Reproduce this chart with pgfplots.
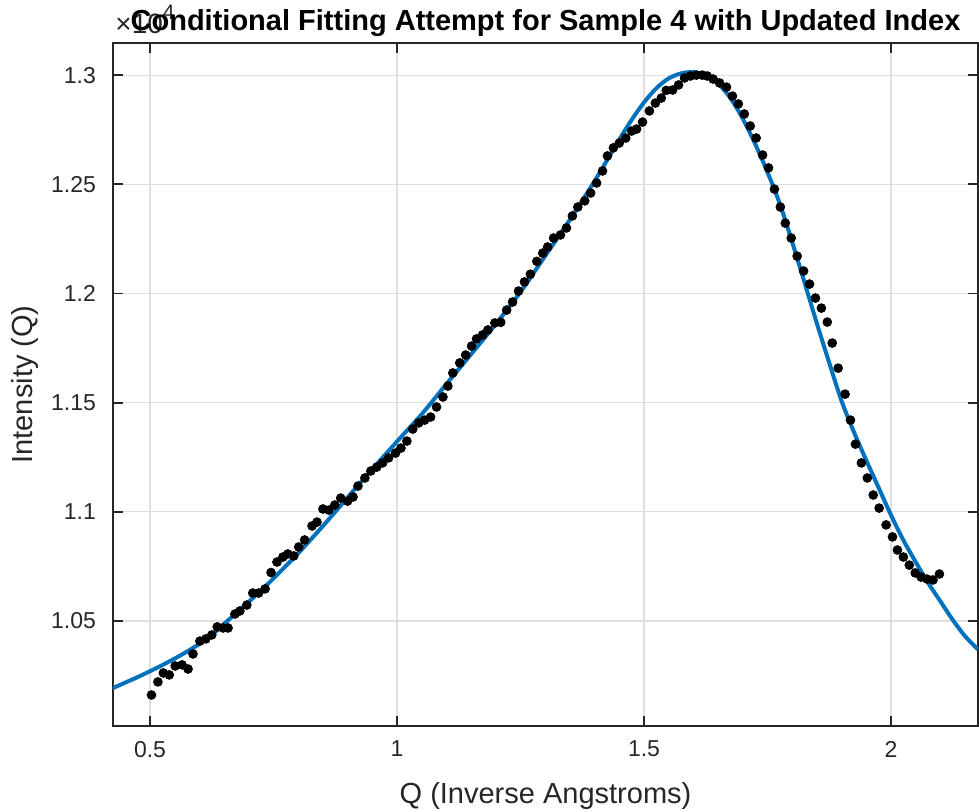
\documentclass[border=0pt]{standalone}
\usepackage{pgfplots}
\pgfplotsset{compat=1.18}
\usepackage{fontspec}
\setmainfont{Liberation Sans}
\definecolor{mlblue}{RGB}{0,114,189}
\definecolor{axgray}{RGB}{38,38,38}
\definecolor{gridgray}{RGB}{223,223,223}
\begin{document}
\begin{tikzpicture}
\useasboundingbox (-56.5pt,-42.5pt) rectangle (433pt,363pt);
\node[anchor=base west, inner sep=0pt, font=\fontsize{14}{16}\selectfont, text=axgray] at (1pt,346.5pt) {×10\raisebox{0.5em}{\fontsize{10.5}{12}\selectfont 4}};
\begin{axis}[
 at={(0,0)}, anchor=south west,
 scale only axis, width=432.5pt, height=341.6pt,
 xmin=0.4251, xmax=2.1761, ymin=1.0019, ymax=1.3148,
 xtick={0.5,1,1.5,2}, xticklabels={0.5,1,1.5,2},
 ytick={1.05,1.1,1.15,1.2,1.25,1.3}, yticklabels={1.05,1.1,1.15,1.2,1.25,1.3},
 tick align=inside, tick pos=both, major tick length=5pt,
 axis line style={axgray, line width=0.9pt},
 tick style={axgray, line width=0.9pt},
 grid=major, major grid style={gridgray, line width=0.6pt},
 ticklabel style={font=\fontsize{11.5}{13}\selectfont, text=axgray},
 xticklabel style={yshift=-4pt},
 yticklabel style={xshift=-5pt},
 every axis title shift=0pt,
 title={Conditional Fitting Attempt for Sample 4 with Updated Index},
 title style={font=\bfseries\fontsize{14.5}{17}\selectfont, at={(axis description cs:0.5,1.0186)}, anchor=base},
 xlabel={Q (Inverse Angstroms)}, ylabel={Intensity (Q)},
 label style={font=\fontsize{14.5}{17}\selectfont, text=axgray},
 xlabel style={at={(axis description cs:0.5,-0.1127)}, anchor=base},
 ylabel style={at={(axis description cs:-0.0925,0.5)}, anchor=base},
 clip=true,
]
\addplot[only marks, mark=*, mark size=2.2pt, black] table {
x y
0.503 1.0161
0.516 1.0221
0.527 1.0262
0.539 1.0253
0.551 1.0294
0.565 1.0299
0.577 1.0280
0.587 1.0349
0.601 1.0408
0.613 1.0418
0.625 1.0436
0.636 1.0473
0.648 1.0468
0.658 1.0468
0.672 1.0532
0.682 1.0546
0.696 1.0573
0.708 1.0628
0.720 1.0628
0.733 1.0647
0.745 1.0722
0.757 1.0770
0.769 1.0793
0.779 1.0807
0.791 1.0798
0.801 1.0839
0.813 1.0871
0.828 1.0935
0.838 1.0953
0.850 1.1013
0.862 1.1008
0.874 1.1031
0.886 1.1063
0.900 1.1049
0.911 1.1068
0.921 1.1118
0.935 1.1155
0.947 1.1187
0.959 1.1205
0.971 1.1224
0.983 1.1247
0.997 1.1269
1.008 1.1292
1.020 1.1324
1.032 1.1379
1.044 1.1407
1.056 1.1420
1.068 1.1434
1.080 1.1480
1.093 1.1526
1.103 1.1576
1.113 1.1636
1.127 1.1682
1.139 1.1718
1.151 1.1759
1.161 1.1792
1.173 1.1810
1.184 1.1833
1.198 1.1865
1.210 1.1868
1.222 1.1924
1.234 1.1961
1.246 1.2011
1.258 1.2053
1.270 1.2088
1.283 1.2147
1.295 1.2185
1.305 1.2213
1.317 1.2254
1.331 1.2268
1.343 1.2300
1.355 1.2355
1.366 1.2396
1.380 1.2424
1.392 1.2460
1.404 1.2506
1.416 1.2561
1.426 1.2630
1.438 1.2667
1.450 1.2689
1.463 1.2712
1.475 1.2744
1.485 1.2753
1.497 1.2785
1.511 1.2836
1.523 1.2872
1.535 1.2895
1.545 1.2930
1.558 1.2932
1.570 1.2955
1.582 1.2987
1.594 1.2996
1.606 1.3000
1.618 1.3000
1.628 1.2996
1.640 1.2982
1.653 1.2964
1.667 1.2945
1.679 1.2904
1.691 1.2868
1.703 1.2822
1.715 1.2767
1.727 1.2712
1.740 1.2634
1.752 1.2575
1.764 1.2478
1.776 1.2396
1.786 1.2322
1.798 1.2254
1.810 1.2171
1.823 1.2103
1.835 1.2043
1.847 1.1979
1.859 1.1933
1.871 1.1869
1.881 1.1773
1.893 1.1658
1.907 1.1539
1.918 1.1420
1.928 1.1310
1.940 1.1224
1.952 1.1155
1.964 1.1077
1.976 1.1017
1.990 1.0940
2.003 1.0885
2.013 1.0825
2.025 1.0793
2.037 1.0756
2.049 1.0720
2.061 1.0701
2.073 1.0692
2.085 1.0688
2.098 1.0715
};
\addplot[mlblue, line width=2pt, smooth] table {
x y
0.425 1.0193
0.45 1.0218
0.475 1.0243
0.50 1.0270
0.525 1.0298
0.55 1.0328
0.575 1.0360
0.60 1.0395
0.625 1.0435
0.65 1.0487
0.675 1.0537
0.70 1.0588
0.725 1.0640
0.75 1.0695
0.775 1.0752
0.80 1.0810
0.825 1.0872
0.85 1.0935
0.875 1.1000
0.90 1.1066
0.95 1.1195
1.00 1.1322
1.05 1.1447
1.10 1.1585
1.15 1.1722
1.20 1.1860
1.25 1.2007
1.30 1.2172
1.35 1.2338
1.40 1.2515
1.45 1.2705
1.475 1.2795
1.50 1.2875
1.525 1.2940
1.55 1.2985
1.575 1.3008
1.60 1.3014
1.625 1.3000
1.65 1.2962
1.675 1.2895
1.70 1.2800
1.725 1.2685
1.75 1.2555
1.775 1.2410
1.80 1.2235
1.825 1.2050
1.85 1.1862
1.875 1.1682
1.90 1.1507
1.925 1.1365
1.95 1.1235
1.975 1.1110
2.00 1.0985
2.025 1.0870
2.05 1.0770
2.075 1.0675
2.10 1.0590
2.125 1.0505
2.15 1.0430
2.176 1.0370
};
\end{axis}
\end{tikzpicture}
\end{document}
